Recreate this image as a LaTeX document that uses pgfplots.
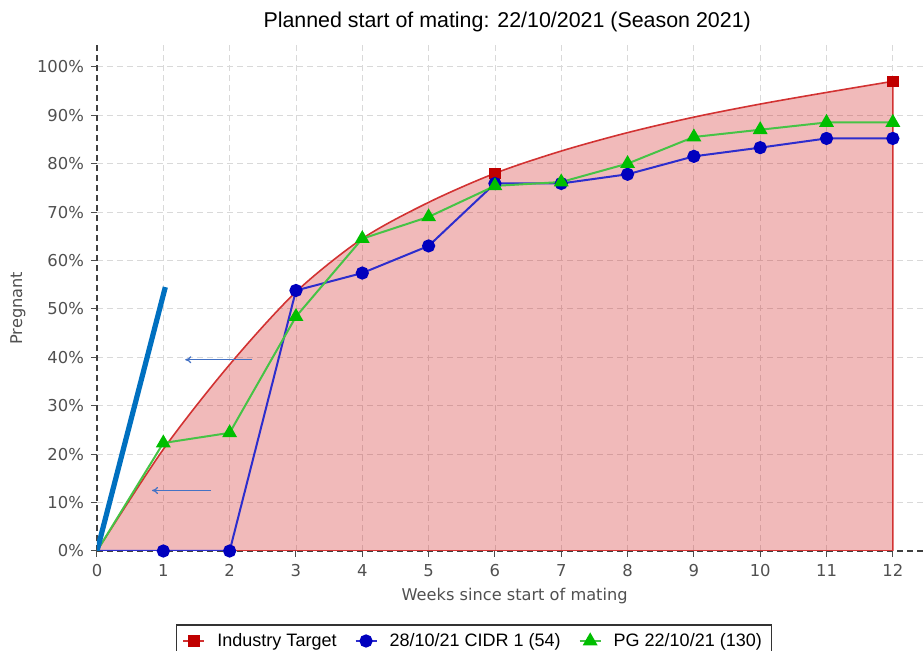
\documentclass[border=0pt]{standalone}
\usepackage{pgfplots}
\pgfplotsset{compat=1.18}
\usepackage{fontspec}
\setmainfont{Liberation Sans}
\newfontfamily\tickfont{DejaVu Sans}
\usetikzlibrary{arrows.meta}
\definecolor{tgtred}{RGB}{210,50,50}
\definecolor{tgtmark}{RGB}{192,0,0}
\definecolor{cidr}{RGB}{45,45,205}
\definecolor{cidrm}{RGB}{0,0,190}
\definecolor{pgg}{RGB}{70,195,70}
\definecolor{pgm}{RGB}{0,190,0}
\definecolor{fillred}{RGB}{204,0,0}
\definecolor{thickblue}{RGB}{0,112,192}
\definecolor{arrowblue}{RGB}{68,114,196}
\definecolor{axgray}{RGB}{80,80,80}
\begin{document}
\begin{tikzpicture}
\begin{axis}[name=ax, scale only axis, width=413.5pt, height=253pt,
  xmin=0, xmax=12.47, ymin=0, ymax=104.5,
  axis lines=left, axis line style={-, densely dashed, black!75, line width=0.6pt},
  xtick={0,1,2,3,4,5,6,7,8,9,10,11,12},
  xticklabels={0,1,2,3,4,5,6,7,8,9,10,11,12},
  ytick={0,10,20,30,40,50,60,70,80,90,100},
  yticklabels={0\%,10\%,20\%,30\%,40\%,50\%,60\%,70\%,80\%,90\%,100\%},
  grid=major, grid style={densely dashed, black!15, line width=0.4pt},
  tick style={black!70, line width=0.5pt}, tick align=outside, major tick length=3pt,
  ticklabel style={font=\tickfont\fontsize{8.2}{9}\selectfont, text=axgray},
  xlabel={Weeks since start of mating}, ylabel={Pregnant},
  label style={font=\tickfont\fontsize{8.1}{9}\selectfont, text=axgray},
  xlabel style={at={(0.505,-0.089)}, anchor=center},
  ylabel style={at={(-0.0955,0.48)}, anchor=center},
  every axis title shift=0pt,
  title={Planned start of mating: 22/10/2021 (Season 2021)},
  title style={at={(0.496,1.046)}, anchor=center, font=\fontsize{10.7}{12}\selectfont},
  legend style={at={(0.456,-0.145)}, anchor=north, legend columns=3, draw=black!80,
    line width=0.6pt, font=\fontsize{9}{11}\selectfont,
    /tikz/every odd column/.append style={column sep=4pt},
    /tikz/every even column/.append style={column sep=7pt}},
  legend cell align=left,
  legend image code/.code={\draw[#1, mark repeat=2, mark phase=2] plot coordinates {(0cm,0cm) (0.185cm,0cm) (0.37cm,0cm)};},
]
% Industry target area
\addplot[smooth, draw=tgtred, line width=0.8pt, fill=fillred, fill opacity=0.27, forget plot]
 coordinates {(0,0)(1,21)(2,38.5)(3,53.5)(4,64.5)(5,72)(6,78)(7,82.6)(8,86.4)(9,89.6)(10,92.3)(11,94.7)(12,97)} \closedcycle;
\addplot[only marks, mark=square*, mark size=2.7pt, color=tgtmark, forget plot]
 coordinates {(6,78)(12,97)};
\addlegendimage{tgtred, line width=1pt, mark=square*, mark size=2.7pt, mark options={tgtmark}}
\addlegendentry{Industry Target}
% CIDR
\addplot[cidr, line width=1pt, mark=*, mark size=2.8pt, mark options={cidrm}, mark phase=2, mark repeat=1]
 coordinates {(0,0)(1,0)(2,0)(3,53.8)(4,57.4)(5,63)(6,75.9)(7,75.9)(8,77.8)(9,81.5)(10,83.3)(11,85.2)(12,85.2)};
\addlegendentry{28/10/21 CIDR 1 (54)}
% PG
\addplot[pgg, line width=1pt, mark=triangle*, mark size=3.3pt, mark options={pgm}, mark phase=2, mark repeat=1]
 coordinates {(0,0)(1,22.3)(2,24.4)(3,48.4)(4,64.5)(5,69)(6,75.4)(7,76.2)(8,80)(9,85.5)(10,87)(11,88.5)(12,88.5)};
\addlegendentry{PG 22/10/21 (130)}
% annotations
\addplot[thickblue, line width=2.6pt, forget plot] coordinates {(0,0)(1.03,54.5)};
\addplot[arrowblue, line width=0.6pt, -{To[length=3pt,width=3.5pt]}, forget plot] coordinates {(2.34,39.5)(1.33,39.5)};
\addplot[arrowblue, line width=0.6pt, -{To[length=3pt,width=3.5pt]}, forget plot] coordinates {(1.72,12.5)(0.83,12.5)};
\end{axis}
\pgfresetboundingbox
\useasboundingbox ([xshift=-48.5pt,yshift=-50pt]ax.south west) rectangle ([yshift=22.5pt]ax.north east);
\end{tikzpicture}
\end{document}
